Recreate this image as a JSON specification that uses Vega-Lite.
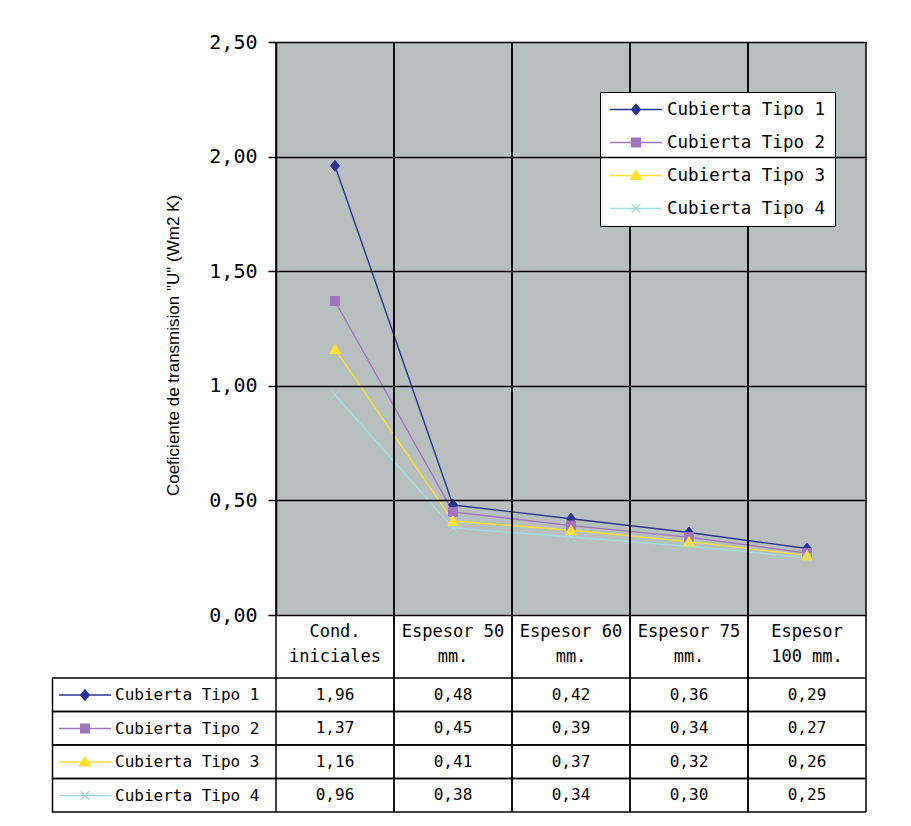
{
  "$schema": "https://vega.github.io/schema/vega-lite/v6.json",
  "width": 814,
  "height": 770,
  "autosize": {"type": "none"},
  "padding": {"left": 52, "top": 42, "right": 45, "bottom": 14},
  "background": "#ffffff",
  "config": {
    "locale": {"number": {"decimal": ",", "thousands": ".", "grouping": [3], "currency": ["", " €"]}},
    "view": {"stroke": null},
    "font": "DejaVu Sans Mono"
  },
  "datasets": {
    "valores": [
      {"categoria": "Cond. iniciales", "serie": "Cubierta Tipo 1", "valor": 1.96},
      {"categoria": "Espesor 50 mm.", "serie": "Cubierta Tipo 1", "valor": 0.48},
      {"categoria": "Espesor 60 mm.", "serie": "Cubierta Tipo 1", "valor": 0.42},
      {"categoria": "Espesor 75 mm.", "serie": "Cubierta Tipo 1", "valor": 0.36},
      {"categoria": "Espesor 100 mm.", "serie": "Cubierta Tipo 1", "valor": 0.29},
      {"categoria": "Cond. iniciales", "serie": "Cubierta Tipo 2", "valor": 1.37},
      {"categoria": "Espesor 50 mm.", "serie": "Cubierta Tipo 2", "valor": 0.45},
      {"categoria": "Espesor 60 mm.", "serie": "Cubierta Tipo 2", "valor": 0.39},
      {"categoria": "Espesor 75 mm.", "serie": "Cubierta Tipo 2", "valor": 0.34},
      {"categoria": "Espesor 100 mm.", "serie": "Cubierta Tipo 2", "valor": 0.27},
      {"categoria": "Cond. iniciales", "serie": "Cubierta Tipo 3", "valor": 1.16},
      {"categoria": "Espesor 50 mm.", "serie": "Cubierta Tipo 3", "valor": 0.41},
      {"categoria": "Espesor 60 mm.", "serie": "Cubierta Tipo 3", "valor": 0.37},
      {"categoria": "Espesor 75 mm.", "serie": "Cubierta Tipo 3", "valor": 0.32},
      {"categoria": "Espesor 100 mm.", "serie": "Cubierta Tipo 3", "valor": 0.26},
      {"categoria": "Cond. iniciales", "serie": "Cubierta Tipo 4", "valor": 0.96},
      {"categoria": "Espesor 50 mm.", "serie": "Cubierta Tipo 4", "valor": 0.38},
      {"categoria": "Espesor 60 mm.", "serie": "Cubierta Tipo 4", "valor": 0.34},
      {"categoria": "Espesor 75 mm.", "serie": "Cubierta Tipo 4", "valor": 0.30},
      {"categoria": "Espesor 100 mm.", "serie": "Cubierta Tipo 4", "valor": 0.25}
    ],
    "categorias": [
      {"categoria": "Cond. iniciales"},
      {"categoria": "Espesor 50 mm."},
      {"categoria": "Espesor 60 mm."},
      {"categoria": "Espesor 75 mm."},
      {"categoria": "Espesor 100 mm."}
    ],
    "series": [
      {"serie": "Cubierta Tipo 1"},
      {"serie": "Cubierta Tipo 2"},
      {"serie": "Cubierta Tipo 3"},
      {"serie": "Cubierta Tipo 4"}
    ]
  },
  "layer": [
    {
      "layer": [
        {
          "data": {"name": "categorias"},
          "mark": {"type": "rect", "color": "#b8bfbf"},
          "encoding": {
            "x": {"field": "categoria", "type": "nominal", "scale": {"type": "band", "domain": ["Cond. iniciales", "Espesor 50 mm.", "Espesor 60 mm.", "Espesor 75 mm.", "Espesor 100 mm."], "range": [224, 814], "paddingInner": 0, "paddingOuter": 0},
              "axis": {"orient": "bottom", "offset": -197, "domain": false, "ticks": false, "grid": false, "title": null, "labelAngle": 0, "labelFont": "DejaVu Sans Mono", "labelFontSize": 17, "labelColor": "#000000", "labelPadding": 8, "labelLineHeight": 25, "labelBaseline": "top", "labelLimit": 0, "labelOverlap": false, "labelExpr": "datum.label == 'Cond. iniciales' ? ['Cond.', 'iniciales'] : datum.label == 'Espesor 100 mm.' ? ['Espesor', '100 mm.'] : [replace(datum.label, ' mm.', ''), 'mm.']", "zindex": 1}},
            "y": {"datum": 2.5, "type": "quantitative", "scale": {"type": "linear", "domain": [0, 2.5], "range": [573, 0], "nice": false, "zero": false},
              "axis": {"orient": "left", "offset": -224, "values": [0, 0.5, 1, 1.5, 2, 2.5], "format": ".2f", "grid": true, "gridColor": "#000000", "gridWidth": 1.5, "gridOpacity": 1, "domain": true, "domainColor": "#000000", "domainWidth": 1.5, "ticks": true, "tickColor": "#000000", "tickSize": 8, "tickWidth": 1.5, "labelFont": "DejaVu Sans Mono", "labelFontSize": 20, "labelColor": "#000000", "labelPadding": 11, "labelFlush": false, "labelOverlap": false, "title": "Coeficiente de transmision \"U\"  (Wm2 K)", "titleFont": "'Liberation Sans Narrow', 'Liberation Sans', sans-serif", "titleFontSize": 17, "titleFontWeight": "normal", "titleColor": "#000000", "titlePadding": 26, "titleY": 303, "zindex": 1}},
            "y2": {"datum": 0}
          }
        },
        {
          "data": {"name": "valores"},
          "mark": {"type": "line", "strokeWidth": 1.4},
          "encoding": {
            "x": {"field": "categoria", "type": "nominal", "sort": ["Cond. iniciales", "Espesor 50 mm.", "Espesor 60 mm.", "Espesor 75 mm.", "Espesor 100 mm."], "bandPosition": 0.5},
            "y": {"field": "valor", "type": "quantitative"},
            "stroke": {"field": "serie", "type": "nominal", "scale": {"domain": ["Cubierta Tipo 1", "Cubierta Tipo 2", "Cubierta Tipo 3", "Cubierta Tipo 4"], "range": ["#2b3590", "#a274bc", "#ffe033", "#a2dede"]}, "legend": null}
          }
        },
        {
          "data": {"name": "valores"},
          "mark": {"type": "point", "filled": true, "opacity": 1, "size": 100, "strokeWidth": 1},
          "encoding": {
            "x": {"field": "categoria", "type": "nominal", "bandPosition": 0.5},
            "y": {"field": "valor", "type": "quantitative"},
            "fill": {"field": "serie", "type": "nominal", "scale": {"domain": ["Cubierta Tipo 1", "Cubierta Tipo 2", "Cubierta Tipo 3", "Cubierta Tipo 4"], "range": ["#2b3590", "#a274bc", "#ffe033", "#a2dede"]}, "legend": null},
            "stroke": {"field": "serie", "type": "nominal", "legend": null},
            "shape": {"field": "serie", "type": "nominal", "scale": {"domain": ["Cubierta Tipo 1", "Cubierta Tipo 2", "Cubierta Tipo 3", "Cubierta Tipo 4"], "range": ["M0,-1.1L0.9,0L0,1.1L-0.9,0Z", "M-0.9,-0.9L0.9,-0.9L0.9,0.9L-0.9,0.9Z", "M0,-1L1.1,0.9L-1.1,0.9Z", "M-0.9,-0.9L0.9,0.9M-0.9,0.9L0.9,-0.9"]}, "legend": null}
          }
        },
        {
          "data": {"name": "valores"},
          "transform": [{"filter": "false"}],
          "mark": {"type": "point", "filled": true, "opacity": 1},
          "encoding": {
            "fill": {"field": "serie", "type": "nominal", "legend": {"orient": "none", "legendX": 548, "legendY": 50, "title": null, "padding": 9, "strokeColor": "#000000", "fillColor": "#ffffff", "symbolSize": 2704, "symbolStrokeWidth": 1.3, "symbolOffset": 0, "labelFont": "DejaVu Sans Mono", "labelFontSize": 17.5, "labelColor": "#000000", "labelOffset": 4, "rowPadding": 15, "clipHeight": 17}},
            "stroke": {"field": "serie", "type": "nominal", "legend": {"orient": "none", "legendX": 548, "legendY": 50, "title": null, "padding": 9, "strokeColor": "#000000", "fillColor": "#ffffff", "symbolSize": 2704, "symbolStrokeWidth": 1.3, "symbolOffset": 0, "labelFont": "DejaVu Sans Mono", "labelFontSize": 17.5, "labelColor": "#000000", "labelOffset": 4, "rowPadding": 15, "clipHeight": 17}},
            "shape": {"field": "serie", "type": "nominal", "scale": {"domain": ["Cubierta Tipo 1", "Cubierta Tipo 2", "Cubierta Tipo 3", "Cubierta Tipo 4"], "range": ["M-1,0L1,0M0,-0.2L0.17,0L0,0.2L-0.17,0Z", "M-1,0L1,0M-0.17,-0.17L0.17,-0.17L0.17,0.17L-0.17,0.17Z", "M-1,0L1,0M0,-0.2L0.22,0.15L-0.22,0.15Z", "M-1,0L1,0M-0.17,-0.17L0.17,0.17M-0.17,0.17L0.17,-0.17"]}, "legend": {"orient": "none", "legendX": 548, "legendY": 50, "title": null, "padding": 9, "strokeColor": "#000000", "fillColor": "#ffffff", "symbolSize": 2704, "symbolStrokeWidth": 1.3, "symbolOffset": 0, "labelFont": "DejaVu Sans Mono", "labelFontSize": 17.5, "labelColor": "#000000", "labelOffset": 4, "rowPadding": 15, "clipHeight": 17}}
          }
        }
      ],
      "resolve": {"scale": {"shape": "independent"}, "legend": {"fill": "independent", "stroke": "independent", "shape": "independent"}}
    },
    {
      "layer": [
        {
          "data": {"name": "series"},
          "mark": {"type": "rule", "color": "#000000", "strokeWidth": 1.5},
          "encoding": {
            "y": {"field": "serie", "type": "nominal", "scale": {"type": "band", "domain": ["Cubierta Tipo 1", "Cubierta Tipo 2", "Cubierta Tipo 3", "Cubierta Tipo 4"], "range": [636, 770], "paddingInner": 0, "paddingOuter": 0}, "bandPosition": 0,
              "axis": {"orient": "left", "labels": false, "ticks": false, "grid": false, "title": null, "domain": true, "domainColor": "#000000", "domainWidth": 1.5}}
          }
        },
        {
          "data": {"name": "series"},
          "mark": {"type": "rule", "color": "#000000", "strokeWidth": 1.5},
          "encoding": {
            "y": {"field": "serie", "type": "nominal", "bandPosition": 1}
          }
        },
        {
          "data": {"name": "categorias"},
          "mark": {"type": "rule", "color": "#000000", "strokeWidth": 1.5},
          "encoding": {
            "x": {"field": "categoria", "type": "nominal", "bandPosition": 0}
          }
        },
        {
          "data": {"name": "categorias"},
          "mark": {"type": "rule", "color": "#000000", "strokeWidth": 1.5},
          "encoding": {
            "x": {"field": "categoria", "type": "nominal", "bandPosition": 1}
          }
        },
        {
          "data": {"name": "valores"},
          "mark": {"type": "text", "font": "DejaVu Sans Mono", "fontSize": 16, "color": "#000000"},
          "encoding": {
            "x": {"field": "categoria", "type": "nominal", "bandPosition": 0.5},
            "y": {"field": "serie", "type": "nominal", "bandPosition": 0.5},
            "text": {"field": "valor", "type": "quantitative", "format": ".2f"}
          }
        },
        {
          "data": {"name": "valores"},
          "transform": [{"filter": "false"}],
          "mark": {"type": "point", "filled": true, "opacity": 1},
          "encoding": {
            "fill": {"field": "serie", "type": "nominal", "legend": {"orient": "none", "legendX": 0, "legendY": 645, "title": null, "padding": 0, "symbolSize": 2704, "symbolStrokeWidth": 1.3, "symbolOffset": 6, "labelFont": "DejaVu Sans Mono", "labelFontSize": 16, "labelColor": "#000000", "labelOffset": 3, "rowPadding": 17.5, "clipHeight": 16}},
            "stroke": {"field": "serie", "type": "nominal", "legend": {"orient": "none", "legendX": 0, "legendY": 645, "title": null, "padding": 0, "symbolSize": 2704, "symbolStrokeWidth": 1.3, "symbolOffset": 6, "labelFont": "DejaVu Sans Mono", "labelFontSize": 16, "labelColor": "#000000", "labelOffset": 3, "rowPadding": 17.5, "clipHeight": 16}},
            "shape": {"field": "serie", "type": "nominal", "scale": {"domain": ["Cubierta Tipo 1", "Cubierta Tipo 2", "Cubierta Tipo 3", "Cubierta Tipo 4"], "range": ["M-1,0L1,0M0,-0.2L0.17,0L0,0.2L-0.17,0Z", "M-1,0L1,0M-0.17,-0.17L0.17,-0.17L0.17,0.17L-0.17,0.17Z", "M-1,0L1,0M0,-0.2L0.22,0.15L-0.22,0.15Z", "M-1,0L1,0M-0.17,-0.17L0.17,0.17M-0.17,0.17L0.17,-0.17"]}, "legend": {"orient": "none", "legendX": 0, "legendY": 645, "title": null, "padding": 0, "symbolSize": 2704, "symbolStrokeWidth": 1.3, "symbolOffset": 6, "labelFont": "DejaVu Sans Mono", "labelFontSize": 16, "labelColor": "#000000", "labelOffset": 3, "rowPadding": 17.5, "clipHeight": 16}}
          }
        }
      ]
    }
  ],
  "resolve": {"scale": {"y": "independent", "shape": "independent"}, "axis": {"y": "independent"}, "legend": {"fill": "independent", "stroke": "independent", "shape": "independent"}}
}
